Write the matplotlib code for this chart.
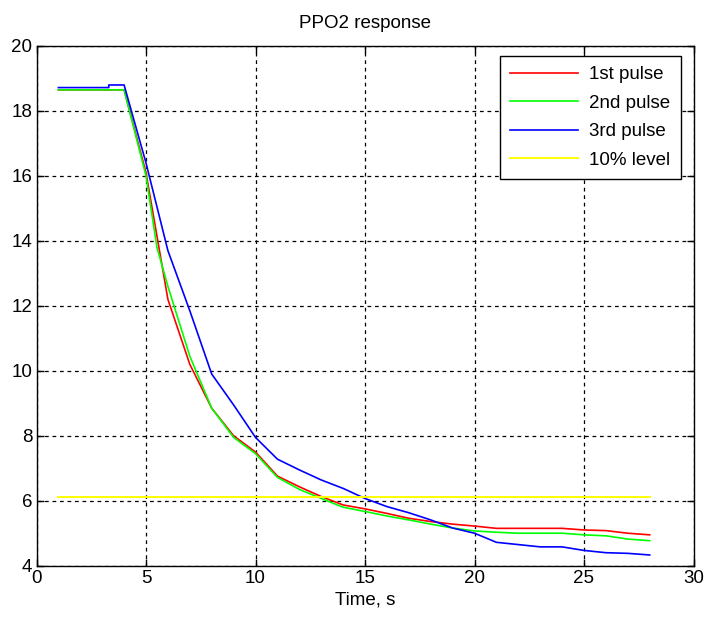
import matplotlib
matplotlib.use("Agg")
import matplotlib.pyplot as plt

# tempo (s) e resposta PPO2 de cada pulso
t_red   = [1, 4, 5, 6, 7, 8, 9, 10, 11, 12, 13, 14, 15, 16, 17, 18, 19, 20, 21, 22, 23, 24, 25, 26, 27, 28]
v_red   = [18.65, 18.65, 16.1, 12.2, 10.2, 8.85, 8.0, 7.5, 6.76, 6.43, 6.13, 5.87, 5.75, 5.61, 5.46, 5.36,
           5.28, 5.22, 5.15, 5.15, 5.15, 5.15, 5.1, 5.08, 5.0, 4.95]
t_green = [1, 4, 5, 5.5, 6, 7, 8, 9, 10, 11, 12, 13, 14, 15, 16, 17, 18, 19, 20, 21, 22, 23, 24, 25, 26, 27, 28]
v_green = [18.65, 18.65, 16.0, 13.8, 12.6, 10.45, 8.85, 7.95, 7.45, 6.72, 6.35, 6.07, 5.8, 5.67, 5.53, 5.41,
           5.28, 5.16, 5.07, 5.03, 5.0, 5.0, 5.0, 4.95, 4.92, 4.82, 4.77]
t_blue  = [1, 3.3, 3.3, 4, 5, 6, 7, 8, 9, 10, 11, 12, 13, 14, 15, 16, 17, 18, 19, 20, 21, 22, 23, 24, 25, 26, 27, 28]
v_blue  = [18.72, 18.72, 18.8, 18.8, 16.4, 13.7, 11.85, 9.9, 8.95, 7.95, 7.28, 6.95, 6.64, 6.38, 6.07, 5.82,
           5.63, 5.41, 5.16, 5.0, 4.72, 4.65, 4.58, 4.58, 4.47, 4.4, 4.38, 4.33]
t_nivel = [1, 28]
v_nivel = [6.1, 6.1]

plt.rcParams["font.family"] = ["Liberation Sans Narrow", "Liberation Sans", "DejaVu Sans"]
FS = 13.5
fig = plt.figure(figsize=(7.07, 6.18), dpi=100, facecolor="white")
ax = fig.add_axes([36.5 / 707, 52.3 / 618, 657 / 707, 519.7 / 618])

ax.plot(t_red, v_red, color="#ff0000", lw=1.2, label="1st pulse")
ax.plot(t_green, v_green, color="#00ff00", lw=1.2, label="2nd pulse")
ax.plot(t_blue, v_blue, color="#0000ff", lw=1.2, label="3rd pulse")
ax.plot(t_nivel, v_nivel, color="#ffff00", lw=1.4, label="10% level")

ax.set_xlim(0, 30); ax.set_ylim(4, 20)
ax.set_xticks(range(0, 31, 5)); ax.set_yticks(range(4, 21, 2))
ax.grid(True, color="black", ls=(0, (3, 3)), lw=0.9)
ax.set_axisbelow(True)
ax.tick_params(direction="in", top=True, right=True, length=5, width=1, labelsize=FS, pad=3)
for s in ax.spines.values():
    s.set_linewidth(1.0)
ax.set_title("PPO2 response", fontsize=FS, pad=13)
ax.set_xlabel("Time, s", fontsize=FS, labelpad=3)

leg = ax.legend(loc="upper right", bbox_to_anchor=(1 - 13 / 657, 1 - 10 / 520), borderaxespad=0,
                fontsize=FS, fancybox=False, framealpha=1, edgecolor="black",
                handlelength=3.6, handletextpad=0.6, labelspacing=0.6, borderpad=0.55)
leg.get_frame().set_linewidth(1.0)

fig.savefig("out.png", dpi=100, facecolor="white")
